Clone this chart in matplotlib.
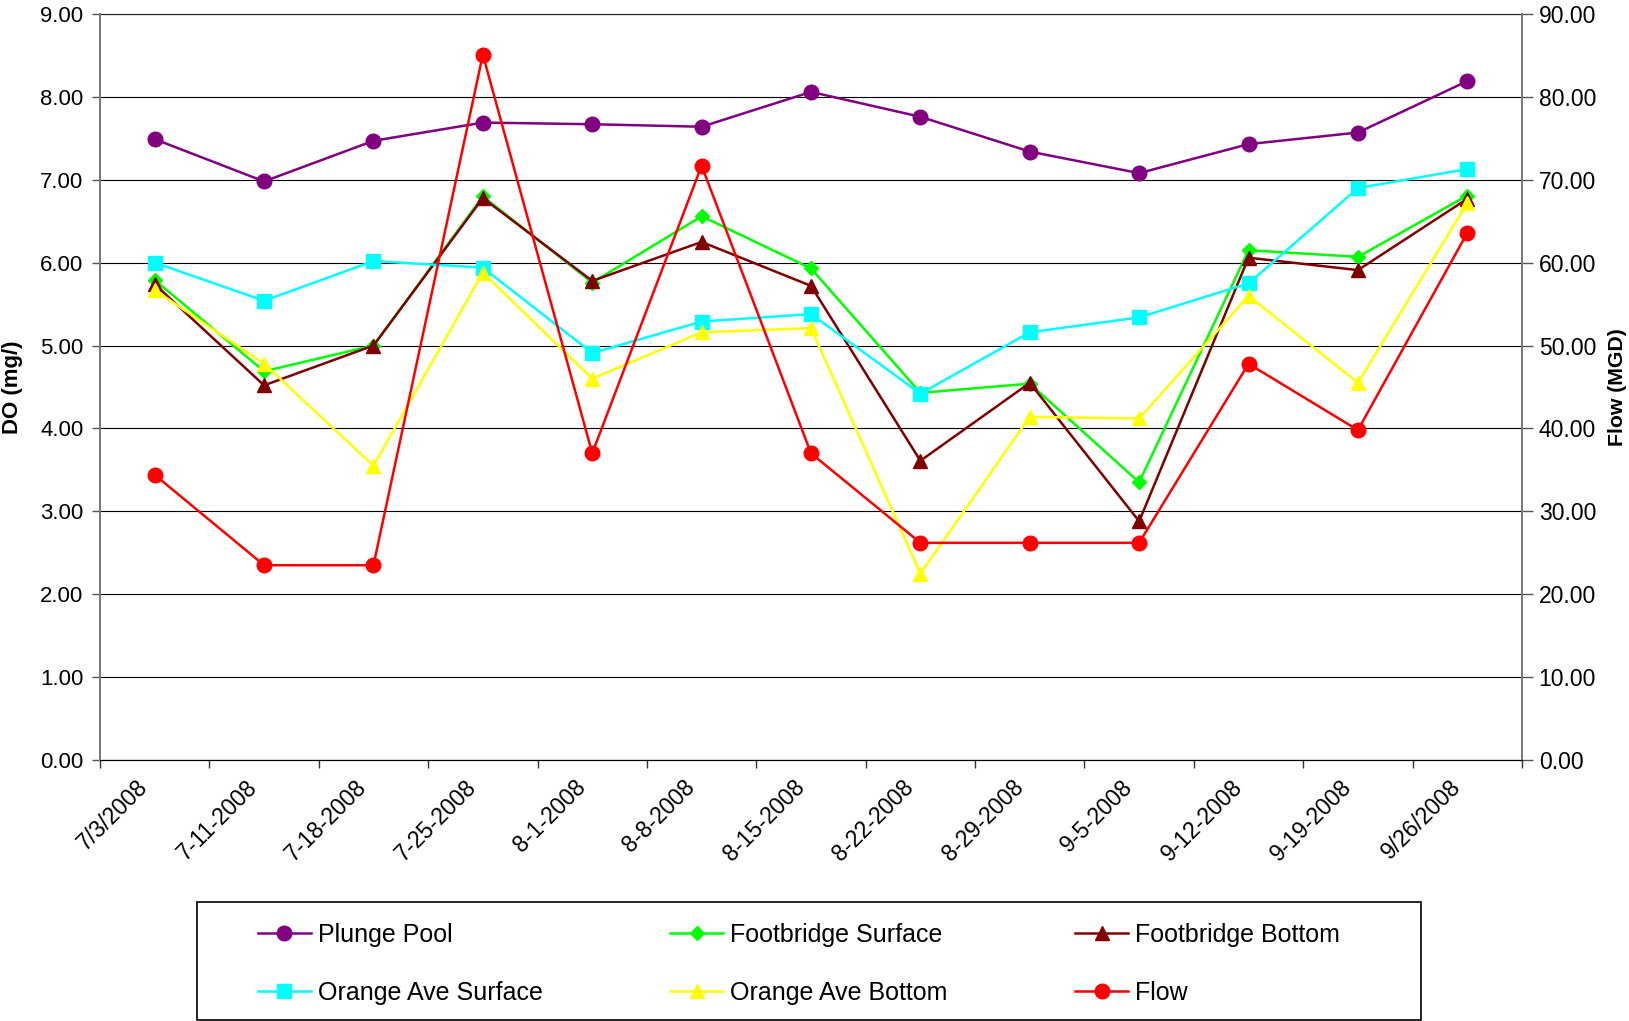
import matplotlib
matplotlib.use("Agg")
import matplotlib.pyplot as plt
from matplotlib.ticker import FormatStrFormatter, FixedLocator
from matplotlib.patches import Rectangle
from matplotlib.transforms import ScaledTranslation

plt.rcParams['font.family'] = ['Liberation Sans', 'DejaVu Sans']

dates = ["7/3/2008", "7-11-2008", "7-18-2008", "7-25-2008", "8-1-2008", "8-8-2008",
         "8-15-2008", "8-22-2008", "8-29-2008", "9-5-2008", "9-12-2008", "9-19-2008",
         "9/26/2008"]
plunge_pool = [7.49, 6.98, 7.47, 7.69, 7.67, 7.64, 8.06, 7.76, 7.34, 7.08, 7.43, 7.57, 8.19]
footbridge_surface = [5.79, 4.69, 5.00, 6.80, 5.76, 6.56, 5.93, 4.43, 4.54, 3.35, 6.15, 6.07, 6.81]
footbridge_bottom = [5.74, 4.52, 5.00, 6.78, 5.78, 6.25, 5.72, 3.61, 4.55, 2.88, 6.06, 5.91, 6.77]
orange_surface = [6.00, 5.54, 6.02, 5.94, 4.91, 5.29, 5.38, 4.42, 5.16, 5.34, 5.75, 6.90, 7.13]
orange_bottom = [5.67, 4.78, 3.55, 5.88, 4.60, 5.16, 5.21, 2.25, 4.14, 4.12, 5.60, 4.55, 6.72]
flow = [34.4, 23.5, 23.5, 85.1, 37.0, 71.7, 37.0, 26.2, 26.2, 26.2, 47.8, 39.8, 63.6]

W, H = 1629, 1021
fig = plt.figure(figsize=(W / 100, H / 100), dpi=100)
ax = fig.add_axes([100 / W, 1 - 760 / H, 1422 / W, 746 / H])
ax2 = ax.twinx()

x = list(range(len(dates)))
lw = 1.8
h_pp, = ax.plot(x, plunge_pool, color='#800080', lw=lw, marker='o', ms=10.5, label='Plunge Pool')
h_fs, = ax.plot(x, footbridge_surface, color='#00FF00', lw=lw, marker='D', ms=7.5, label='Footbridge Surface')
h_fb, = ax.plot(x, footbridge_bottom, color='#800000', lw=lw, marker='^', ms=10.5, label='Footbridge Bottom')
h_os, = ax.plot(x, orange_surface, color='#00FFFF', lw=lw, marker='s', ms=10, label='Orange Ave Surface')
h_ob, = ax.plot(x, orange_bottom, color='#FFFF00', lw=lw, marker='^', ms=10.5, label='Orange Ave Bottom')
h_fl, = ax2.plot(x, flow, color='#FF0000', lw=lw, marker='o', ms=10.5, label='Flow')

ax.set_xlim(-0.5, len(dates) - 0.5)
ax.set_ylim(0, 9)
ax2.set_ylim(0, 90)
ax.set_yticks([i for i in range(10)])
ax2.set_yticks([i * 10 for i in range(10)])
ax.yaxis.set_major_formatter(FormatStrFormatter('%.2f'))
ax2.yaxis.set_major_formatter(FormatStrFormatter('%.2f'))

ax.xaxis.set_major_locator(FixedLocator([i - 0.5 for i in range(len(dates) + 1)]))
ax.set_xticklabels([], minor=False)
ax.set_xticks(x, minor=True)
ax.set_xticklabels(dates, minor=True, rotation=45, ha='right', va='center',
                   rotation_mode='anchor', fontsize=16.5)
ax.tick_params(axis='x', which='minor', length=0, pad=20)
ax.tick_params(axis='x', which='major', length=6, width=1, color='#333333')
ax.tick_params(axis='y', labelsize=16, length=6, width=1, pad=6, color='#555555')
ax2.tick_params(axis='y', labelsize=16.5, length=8, width=1, pad=4, color='#555555')
shift = ScaledTranslation(-10 / 100, 4 / 100, fig.dpi_scale_trans)
for lbl in ax.get_xticklabels(minor=True):
    lbl.set_transform(lbl.get_transform() + shift)

ax.yaxis.grid(True, color='#000000', lw=0.8)
ax.set_axisbelow(True)
for s in ['left', 'right']:
    ax.spines[s].set_color('#777777')
    ax2.spines[s].set_color('#777777')
    ax.spines[s].set_linewidth(1.2)
    ax2.spines[s].set_linewidth(1.2)
ax.spines['bottom'].set_color('#222222')
ax.spines['top'].set_color('#222222')
ax.spines['top'].set_linewidth(0.8)
ax2.spines['top'].set_visible(False)

ax.set_ylabel('DO (mg/)', fontsize=16, fontweight='bold')
ax.yaxis.set_label_coords(-77 / 1422, 0.5)
ax2.set_ylabel('Flow (MGD)', fontsize=15.3, fontweight='bold')
ax2.yaxis.set_label_coords(1 + 86 / 1422, 0.5)

# legend box
fig.patches.append(Rectangle((197 / W, 1 - 1020 / H), (1421 - 197) / W, (1020 - 902) / H,
                             transform=fig.transFigure, fill=False, edgecolor='#000000', lw=1.2))
handles = [h_pp, h_os, h_fs, h_ob, h_fb, h_fl]
fig.legend(handles=handles, labels=[h.get_label() for h in handles], ncol=3,
           loc='upper left', bbox_to_anchor=(258 / W, 1 - 923 / H), frameon=False,
           fontsize=18, handlelength=2.1, handletextpad=0.3, columnspacing=5.1,
           labelspacing=1.36, borderpad=0, borderaxespad=0)

fig.savefig('out.png', dpi=100)
